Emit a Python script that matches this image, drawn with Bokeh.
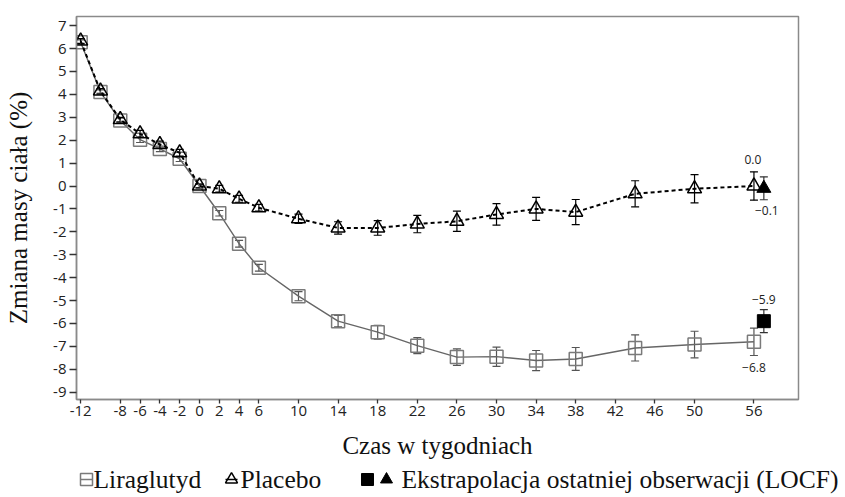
import numpy as np
from bokeh.plotting import figure
from bokeh.layouts import column
from bokeh.models import (ColumnDataSource, Whisker, TeeHead, FixedTicker,
                          Legend, LegendItem, Range1d, Label)
from bokeh.core.properties import value
from bokeh.embed import file_html
from bokeh.resources import INLINE

# ---------------- data ----------------
weeks = [-12, -10, -8, -6, -4, -2, 0, 2, 4, 6, 10, 14, 18, 22, 26, 30, 34, 38, 44, 50, 56]
lira = [6.28, 4.10, 2.86, 2.02, 1.62, 1.19, 0.0, -1.19, -2.52, -3.57, -4.81, -5.90,
        -6.38, -6.97, -7.47, -7.45, -7.62, -7.55, -7.07, -6.92, -6.80]
lira_err = [0.10, 0.10, 0.10, 0.12, 0.12, 0.12, 0.08, 0.12, 0.15, 0.15, 0.20, 0.25,
            0.30, 0.35, 0.36, 0.42, 0.44, 0.50, 0.57, 0.58, 0.60]
plac = [6.33, 4.15, 2.90, 2.28, 1.81, 1.45, 0.0, -0.12, -0.56, -0.95, -1.43, -1.83,
        -1.83, -1.66, -1.54, -1.24, -1.00, -1.14, -0.34, -0.12, 0.0]
plac_err = [0.10, 0.10, 0.10, 0.15, 0.15, 0.15, 0.08, 0.15, 0.15, 0.15, 0.20, 0.27,
            0.32, 0.38, 0.44, 0.47, 0.50, 0.55, 0.57, 0.62, 0.62]
locf_week = [57]
locf_lira = [-5.9]
locf_lira_err = [0.5]
locf_plac = [-0.1]
locf_plac_err = [0.5]

x_ticks = [-12, -8, -6, -4, -2, 0, 2, 4, 6, 10, 14, 18, 22, 26, 30, 34, 38, 42, 46, 50, 56]
y_ticks = list(range(-9, 8))

end_texts = ["0.0", "\u22120.1", "\u22125.9", "\u22126.8"]
legend_texts = ["Liraglutyd", "Placebo", "Ekstrapolacja ostatniej obserwacji (LOCF)"]

# ---------------- sources ----------------
def err_src(xs, ys, es):
    return ColumnDataSource(dict(x=xs, y=ys,
                                 lo=[v - e for v, e in zip(ys, es)],
                                 hi=[v + e for v, e in zip(ys, es)]))

lira_src = err_src(weeks, lira, lira_err)
plac_src = err_src(weeks, plac, plac_err)
locf_l_src = err_src(locf_week, locf_lira, locf_lira_err)
locf_p_src = err_src(locf_week, locf_plac, locf_plac_err)

end_src = ColumnDataSource(dict(
    x=[weeks[-1], locf_week[0], locf_week[0], weeks[-1]],
    y=[plac[-1], locf_plac[0], locf_lira[0], lira[-1]],
    text=end_texts,
    dx=[-1, 3, 0, 0],
    dy=[-27, 22, -22, 26],
))

GRAY = "#7a7a7a"
LGRAY = "#666666"

# ---------------- main figure ----------------
p = figure(width=845, height=463, output_backend="svg", toolbar_location=None,
           x_range=Range1d(-12.42, 60.5), y_range=Range1d(-9.32, 7.40),
           min_border_left=76, min_border_right=47, min_border_top=16,
           min_border_bottom=64)
p.grid.visible = False
p.outline_line_color = "#8a8a8a"
p.outline_line_width = 1.5
p.background_fill_color = "white"
p.border_fill_color = "white"

def whisk(src, color):
    return Whisker(source=src, base="x", lower="lo", upper="hi", dimension="height",
                   line_color=color, line_width=1.2,
                   upper_head=TeeHead(size=8, line_color=color, line_width=1.2),
                   lower_head=TeeHead(size=8, line_color=color, line_width=1.2))

# Liraglutyd
p.add_layout(whisk(lira_src, "#555555"))
p.line("x", "y", source=lira_src, line_color=LGRAY, line_width=1.4)
p.scatter("x", "y", source=lira_src, marker="square", size=13,
          line_color=GRAY, line_width=1.5, fill_alpha=0)

# Placebo
p.add_layout(whisk(plac_src, "black"))
p.line("x", "y", source=plac_src, line_color="black", line_width=2, line_dash="4 3")
p.scatter("x", "y", source=plac_src, marker="triangle", size=14,
          line_color="black", line_width=1.5, fill_alpha=0)

# LOCF
p.add_layout(whisk(locf_l_src, "#333333"))
p.add_layout(whisk(locf_p_src, "#333333"))
p.scatter("x", "y", source=locf_l_src, marker="square", size=13,
          fill_color="black", line_color="black")
p.scatter("x", "y", source=locf_p_src, marker="triangle", size=14,
          fill_color="black", line_color="black")

p.text("x", "y", text="text", source=end_src, x_offset="dx", y_offset="dy",
       text_align="center", text_baseline="middle", text_font_size="12px",
       text_font=value("Open Sans"), text_color="#222222")

# ---------------- axes ----------------
ax = p.xaxis[0]
ax.ticker = FixedTicker(ticks=x_ticks)
ax.major_label_overrides = {t: str(t) for t in x_ticks}
ax.axis_label = "Czas w tygodniach"
ay = p.yaxis[0]
ay.ticker = FixedTicker(ticks=y_ticks)
ay.major_label_overrides = {t: str(t) for t in y_ticks}
ay.axis_label = "Zmiana masy ciała (%)"

for a in (ax, ay):
    a.axis_line_color = "#8a8a8a"
    a.axis_line_width = 1.5
    a.major_tick_line_color = "#333333"
    a.major_tick_line_width = 1.3
    a.major_tick_in = 0
    a.minor_tick_line_color = None
    a.major_label_text_font = "Open Sans"
    a.major_label_text_font_size = "15px"
    a.major_label_text_color = "#222222"
    a.axis_label_text_font = "Liberation Serif"
    a.axis_label_text_font_style = "normal"
    a.axis_label_text_color = "#111111"
    a.axis_label_text_font_size = "25px"

ax.major_tick_out = 4
ax.major_label_standoff = 2
ax.axis_label_standoff = 13
ay.major_tick_out = 7
ay.major_label_standoff = 3
ay.axis_label_standoff = 18

# ---------------- legend row (separate strip) ----------------
q = figure(width=845, height=34, output_backend="svg", toolbar_location=None,
           x_range=Range1d(0, 1), y_range=Range1d(0, 1),
           x_axis_location=None, y_axis_location=None, min_border=0)
q.frame_align = False
q.grid.visible = False
q.outline_line_color = None

def key_src():
    return ColumnDataSource(dict(x=np.array([np.nan]), y=np.array([np.nan])))

k_sq = q.scatter("x", "y", source=key_src(), marker="square", line_color=GRAY,
                 line_width=1.5, fill_alpha=0)
k_sq_d = q.scatter("x", "y", source=key_src(), marker="dash", line_color=GRAY,
                   line_width=1.5)
k_tri = q.scatter("x", "y", source=key_src(), marker="triangle", line_color="black",
                  line_width=1.5, fill_alpha=0)
k_tri_d = q.scatter("x", "y", source=key_src(), marker="dash", line_color="black",
                    line_width=1.5)
k_fsq = q.scatter("x", "y", source=key_src(), marker="square", fill_color="black",
                  line_color="black")
k_ftri = q.scatter("x", "y", source=key_src(), marker="triangle", fill_color="black",
                   line_color="black")

def key(renderers, x):
    lg = Legend(items=[LegendItem(label="", renderers=renderers)],
                location=(x, 3), orientation="horizontal")
    lg.glyph_width = 30
    lg.glyph_height = 30
    lg.label_standoff = 0
    lg.label_width = 0
    lg.label_height = 0
    lg.label_text_font_size = "1px"
    lg.spacing = 0
    lg.padding = 0
    lg.margin = 0
    lg.border_line_color = None
    lg.background_fill_alpha = 0
    return lg

q.add_layout(key([k_sq, k_sq_d], 71), "center")
q.add_layout(key([k_tri, k_tri_d], 216), "center")
q.add_layout(key([k_fsq], 352), "center")
q.add_layout(key([k_ftri], 371), "center")

for txt, xpos in zip(legend_texts, [93, 240, 401]):
    q.add_layout(Label(x=xpos, y=18, x_units="screen", y_units="screen", text=txt,
                       text_font="Liberation Serif", text_font_size="25.5px",
                       text_color="#111111", text_baseline="middle",
                       text_align="left"), "center")

open("out.html", "w").write(file_html(column(p, q), INLINE))
